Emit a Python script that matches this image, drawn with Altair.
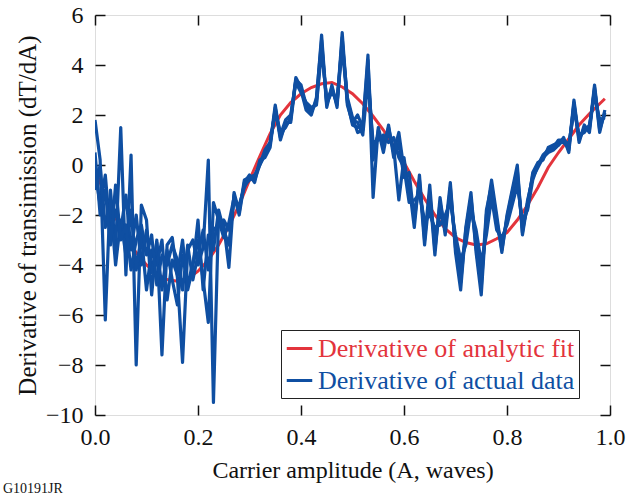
import altair as alt
import pandas as pd

FIT = "Derivative of analytic fit"
DATA = "Derivative of actual data"
RED = "#e3343c"
BLUE = "#0f4fa2"

# Carrier amplitude sample positions of the measured derivative
amplitude = [0.00, 0.01, 0.02, 0.03, 0.04, 0.05, 0.06, 0.07, 0.08, 0.09,
             0.10, 0.11, 0.12, 0.13, 0.14, 0.15, 0.16, 0.17, 0.18, 0.19,
             0.20, 0.21, 0.22, 0.23, 0.24, 0.25, 0.26, 0.27, 0.28, 0.29,
             0.30, 0.31, 0.32, 0.33, 0.34, 0.35, 0.36, 0.37, 0.38, 0.39,
             0.40, 0.41, 0.42, 0.43, 0.44, 0.45, 0.46, 0.47, 0.48, 0.49,
             0.50, 0.51, 0.52, 0.53, 0.54, 0.55, 0.56, 0.57, 0.58, 0.59,
             0.60, 0.61, 0.62, 0.63, 0.64, 0.65, 0.66, 0.67, 0.68, 0.69,
             0.70, 0.71, 0.72, 0.73, 0.74, 0.75, 0.76, 0.77, 0.78, 0.79,
             0.80, 0.81, 0.82, 0.83, 0.84, 0.85, 0.86, 0.87, 0.88, 0.89,
             0.90, 0.91, 0.92, 0.93, 0.94, 0.95, 0.96, 0.97, 0.98, 0.99]

run_1 = [1.8, 0.2, -6.2, -1.0, -3.4, 1.5, -4.4, 0.4, -8.0, -1.6,
         -2.2, -5.2, -3.0, -7.6, -3.2, -2.9, -4.5, -7.9, -3.4, -3.0,
         -4.0, -3.3, 0.2, -9.5, -2.0, -2.4, -4.1, -1.1, -1.9, -0.6,
         -0.5, -0.6, 0.0, 0.4, 0.8, 2.4, 1.1, 1.6, 1.8, 3.5,
         3.1, 2.3, 2.1, 2.6, 5.2, 2.4, 3.1, 2.4, 5.3, 2.5,
         1.6, 1.5, 1.6, 4.4, -1.3, 1.5, 0.7, 1.5, 0.5, 1.3,
         -0.2, -0.8, -2.5, -0.4, -3.0, -0.8, -3.4, -1.5, -2.6, -0.7,
         -3.5, -5.0, -2.5, -1.1, -3.5, -5.2, -2.0, -0.6, -2.0, -3.5,
         -2.0, -1.0, 0.0, -2.8, -1.5, -0.4, 0.0, 0.3, 0.6, 0.7,
         0.8, 1.0, 0.6, 2.6, 1.0, 1.5, 1.4, 3.2, 1.4, 2.1]

run_2 = [-0.2, -1.6, -0.4, -2.8, -1.8, -2.6, -1.2, -3.4, -2.0, -4.0,
         -2.6, -4.3, -3.1, -5.0, -3.4, -4.6, -5.6, -3.6, -4.8, -3.9,
         -3.0, -4.6, -6.3, -1.5, -2.2, -2.9, -2.3, -1.3, -1.7, -0.8,
         -0.6, -0.5, 0.1, 0.5, 0.9, 2.2, 1.3, 1.5, 1.9, 3.4,
         3.2, 2.4, 2.2, 2.5, 4.8, 2.5, 2.9, 2.6, 4.9, 2.7,
         1.9, 1.3, 1.4, 3.8, 0.6, 1.2, 1.0, 1.2, 0.7, -1.4,
         0.3, -1.2, -1.8, -0.9, -2.6, -1.6, -2.9, -2.0, -2.3, -1.2,
         -3.1, -4.2, -2.9, -1.6, -3.0, -4.5, -2.4, -1.0, -2.4, -3.2,
         -2.2, -1.3, -0.5, -2.5, -1.7, -0.3, 0.1, 0.2, 0.7, 0.8,
         0.9, 0.9, 0.7, 2.4, 1.1, 1.4, 1.5, 3.0, 1.6, 2.0]

run_3 = [-1.0, 0.0, -2.5, -1.5, -4.0, -2.2, -3.6, -1.8, -4.2, -2.8,
         -5.0, -3.4, -4.0, -3.0, -5.4, -3.8, -4.4, -3.0, -5.0, -4.1,
         -2.2, -5.0, -2.8, -3.4, -1.8, -2.6, -3.2, -1.2, -2.0, -0.7,
         -0.4, -0.7, 0.2, 0.3, 0.7, 2.3, 1.0, 1.7, 1.7, 3.4,
         3.0, 2.2, 2.0, 2.7, 5.0, 2.3, 3.2, 2.3, 5.1, 2.4,
         1.7, 2.0, 1.5, 4.2, 0.2, 1.4, 0.5, 1.6, 0.3, 0.9,
         -0.5, -0.3, -2.2, -0.6, -3.2, -1.1, -3.6, -1.3, -2.8, -0.9,
         -3.3, -4.7, -2.6, -1.3, -3.3, -4.9, -1.8, -0.8, -2.2, -3.4,
         -2.1, -1.1, -0.2, -2.7, -1.4, -0.5, -0.1, 0.3, 0.5, 0.6,
         0.8, 1.1, 0.5, 2.5, 0.9, 1.6, 1.3, 3.1, 1.3, 2.2]

run_4 = [0.5, -2.0, -1.0, -3.2, -0.8, -3.0, -2.4, -4.2, -3.0, -2.4,
         -3.6, -2.8, -4.8, -3.6, -4.0, -3.2, -3.8, -5.0, -3.2, -4.6,
         -3.6, -2.6, -4.2, -2.6, -2.4, -2.2, -2.6, -1.5, -1.6, -0.9,
         -0.5, -0.4, 0.0, 0.6, 0.9, 2.1, 1.2, 1.8, 2.0, 3.3,
         2.9, 2.5, 2.3, 2.4, 4.6, 2.6, 3.0, 2.5, 4.7, 2.6,
         1.8, 1.7, 1.2, 3.4, 0.9, 1.0, 1.2, 0.9, 1.1, 0.3,
         -0.1, -1.5, -1.4, -1.2, -2.2, -2.0, -2.5, -2.4, -2.0, -1.5,
         -2.8, -3.8, -3.2, -1.8, -2.6, -3.9, -2.8, -1.3, -2.6, -2.9,
         -2.4, -1.6, -0.8, -2.2, -1.8, -0.6, 0.0, 0.4, 0.6, 0.7,
         1.0, 1.0, 0.8, 2.2, 1.2, 1.3, 1.6, 2.8, 1.8, 1.9]

# Derivative of the analytic fit
fit_amplitude = [0.00, 0.02, 0.04, 0.06, 0.08, 0.10, 0.12, 0.14, 0.16, 0.18,
                 0.20, 0.22, 0.24, 0.26, 0.28, 0.30, 0.32, 0.34, 0.36, 0.38,
                 0.40, 0.42, 0.44, 0.46, 0.48, 0.50, 0.52, 0.54, 0.56, 0.58,
                 0.60, 0.62, 0.64, 0.66, 0.68, 0.70, 0.72, 0.74, 0.76, 0.78,
                 0.80, 0.82, 0.84, 0.86, 0.88, 0.90, 0.92, 0.94, 0.96, 0.98, 0.99]
fit_values = [-0.2, -1.2, -2.1, -2.9, -3.5, -4.0, -4.35, -4.58, -4.65, -4.55,
              -4.25, -3.8, -3.2, -2.45, -1.6, -0.6, 0.35, 1.25, 2.0, 2.5,
              2.85, 3.1, 3.25, 3.3, 3.12, 2.85, 2.45, 1.95, 1.4, 0.75,
              0.1, -0.65, -1.35, -2.0, -2.55, -2.9, -3.1, -3.2, -3.15, -2.95,
              -2.7, -2.2, -1.6, -0.9, -0.1, 0.5, 1.05, 1.6, 2.05, 2.45, 2.65]

x_ticks = [0.0, 0.2, 0.4, 0.6, 0.8, 1.0]
y_ticks = [-10, -8, -6, -4, -2, 0, 2, 4, 6]

rows = []
for name, vals in [("1", run_1), ("2", run_2), ("3", run_3), ("4", run_4)]:
    for a, v in zip(amplitude, vals):
        rows.append({"amplitude": a, "value": v, "run": name, "kind": DATA})
blue_df = pd.DataFrame(rows)
red_df = pd.DataFrame({"amplitude": fit_amplitude, "value": fit_values,
                       "kind": [FIT] * len(fit_amplitude)})

FONT = "Times New Roman, Liberation Serif, DejaVu Serif, serif"

x_scale = alt.Scale(domain=[0, 1], nice=False, zero=False)
y_scale = alt.Scale(domain=[-10, 6], nice=False, zero=False)

color = alt.Color(
    "kind:N",
    scale=alt.Scale(domain=[FIT, DATA], range=[RED, BLUE]),
    legend=alt.Legend(
        title=None, orient="none", legendX=186, legendY=315,
        direction="vertical", strokeColor="#222", fillColor="white",
        padding=4, labelFont=FONT, labelFontSize=26, labelLimit=400,
        labelColor=alt.ExprRef(expr=f"datum.label == '{FIT}' ? '{RED}' : '{BLUE}'"),
        symbolType="stroke", symbolStrokeWidth=3, symbolSize=650,
        labelOffset=4, rowPadding=4,
    ),
)

common_axis = dict(domain=False, grid=False, tickColor="#111", tickWidth=1.5,
                   tickSize=10, offset=-10, labelFlush=False)

x_bottom = alt.X("amplitude:Q", scale=x_scale, axis=alt.Axis(
    orient="bottom", values=x_ticks, format=".1f", title="Carrier amplitude (A, waves)",
    labelFont=FONT, labelFontSize=24, labelColor="#111", labelPadding=10,
    titleFont=FONT, titleFontSize=24, titleFontWeight="normal", titleColor="#111",
    titlePadding=9, **common_axis))
y_left = alt.Y("value:Q", scale=y_scale, axis=alt.Axis(
    orient="left", values=y_ticks, format="d", title="Derivative of transimission (dT/dA)",
    labelFont=FONT, labelFontSize=24, labelColor="#111", labelPadding=12,
    titleFont=FONT, titleFontSize=25, titleFontWeight="normal", titleColor="#111",
    titlePadding=5, **common_axis))
x_top = alt.X("amplitude:Q", scale=x_scale, axis=alt.Axis(
    orient="top", values=x_ticks, labels=False, title=None, **common_axis))
y_right = alt.Y("value:Q", scale=y_scale, axis=alt.Axis(
    orient="right", values=y_ticks, labels=False, title=None, **common_axis))

red = alt.Chart(red_df).mark_line(strokeWidth=3, clip=True).encode(
    x=x_bottom, y=y_left, color=color)
blue = alt.Chart(blue_df).mark_line(strokeWidth=3.2, clip=True, strokeJoin="round").encode(
    x=x_top, y=y_right, color=color, detail="run:N")

chart = alt.layer(red, blue).resolve_axis(x="independent", y="independent").properties(
    width=515, height=400,
    autosize=alt.AutoSizeParams(type="none"),
    padding={"left": 95, "top": 15, "right": 29, "bottom": 83},
    title=alt.TitleParams("G10191JR", orient="bottom", anchor="start", frame="group",
                          dx=-92, offset=0, font=FONT, fontSize=14, fontWeight="normal",
                          color="#111"),
).configure_view(stroke="#555", strokeWidth=1.5).configure(background="white")

chart.save("out.html", embed_options={"renderer": "svg", "actions": False})
